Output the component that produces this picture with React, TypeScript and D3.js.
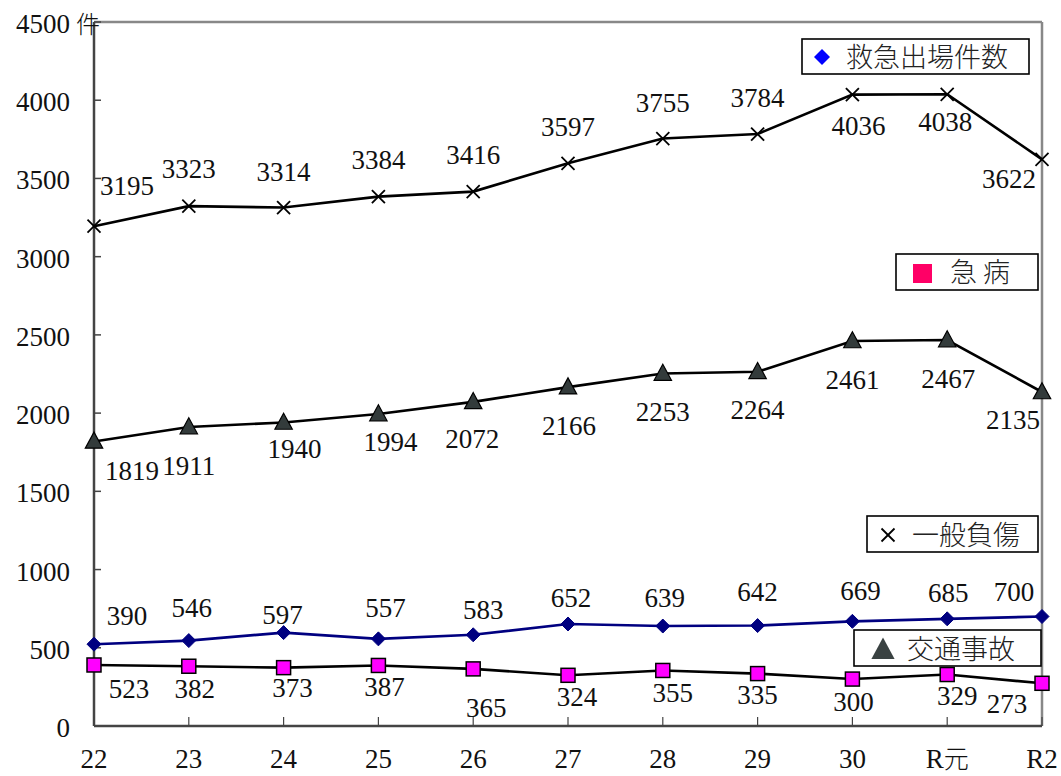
import * as d3 from "d3";

const categories = ["22", "23", "24", "25", "26", "27", "28", "29", "30", "R元", "R2"];

const crossValues = [3195, 3323, 3314, 3384, 3416, 3597, 3755, 3784, 4036, 4038, 3622];
const triangleValues = [1819, 1911, 1940, 1994, 2072, 2166, 2253, 2264, 2461, 2467, 2135];
const diamondValues = [523, 546, 597, 557, 583, 652, 639, 642, 669, 685, 700];
const squareValues = [390, 382, 373, 387, 365, 324, 355, 335, 300, 329, 273];

// label text shown at each point (the first two low labels are swapped in the source)
const diamondLabels = ["523", "546", "597", "557", "583", "652", "639", "642", "669", "685", "700"];
const squareLabels = ["390", "382", "373", "387", "365", "324", "355", "335", "300", "329", "273"];

const yTicks = [0, 500, 1000, 1500, 2000, 2500, 3000, 3500, 4000, 4500];

// label placement relative to each point: [dx, dy of baseline]
const crossLabelPos = [[33, -31], [0, -28], [0, -27], [0, -28], [0, -28], [0, -27], [0, -27], [0, -27], [6, 40], [-2, 37], [-33, 29]];
const triangleLabelPos = [[38, 39], [0, 48], [11, 36], [12, 37], [-1, 46], [1, 48], [0, 47], [0, 47], [0, 48], [1, 48], [-29, 37]];
const diamondLabelPos = [[35, 54], [3, -24], [-1, -9], [7, -22], [10, -16], [3, -17], [2, -19], [0, -25], [8, -21], [1, -17], [-28, -15]];
const squareLabelPos = [[33, -40], [6, 32], [9, 29], [6, 31], [13, 48], [9, 31], [10, 32], [0, 30], [1, 32], [10, 30], [-35, 30]];

const width = 1061;
const height = 776;
const plot = { left: 94, right: 1042, top: 22, bottom: 726 };

const numFont = "'Liberation Serif', 'Noto Sans CJK JP', serif";
const cjkFont = "'Noto Sans CJK JP', 'Liberation Serif', serif";

const x = d3.scalePoint<string>().domain(categories).range([plot.left, plot.right]);
const y = d3.scaleLinear().domain([0, 4500]).range([plot.bottom, plot.top]);

const line = d3
  .line<number>()
  .x((_, i) => x(categories[i]) ?? 0)
  .y((v) => y(v));

function Labels({ values, labels, pos }: { values: number[]; labels: string[]; pos: number[][] }) {
  return (
    <g fontFamily={numFont} fontSize={27} fill="#111" textAnchor="middle">
      {values.map((v, i) => (
        <text key={i} x={(x(categories[i]) ?? 0) + pos[i][0]} y={y(v) + pos[i][1]}>
          {labels[i]}
        </text>
      ))}
    </g>
  );
}

function Cross({ cx, cy, r = 6.5 }: { cx: number; cy: number; r?: number }) {
  return (
    <g stroke="#000" strokeWidth={1.8}>
      <line x1={cx - r} y1={cy - r} x2={cx + r} y2={cy + r} />
      <line x1={cx - r} y1={cy + r} x2={cx + r} y2={cy - r} />
    </g>
  );
}

function trianglePath(cx: number, cy: number, s: number) {
  return `M${cx},${cy - s * 0.62} L${cx + s * 0.58},${cy + s * 0.45} L${cx - s * 0.58},${cy + s * 0.45}Z`;
}

function diamondPath(cx: number, cy: number, s: number) {
  return `M${cx},${cy - s} L${cx + s},${cy} L${cx},${cy + s} L${cx - s},${cy}Z`;
}

function Legend({ x0, y0, w, h, children }: { x0: number; y0: number; w: number; h: number; children: React.ReactNode }) {
  return (
    <g>
      <rect x={x0} y={y0} width={w} height={h} fill="#fff" stroke="#000" strokeWidth={1.6} />
      {children}
    </g>
  );
}

export default function App() {
  return (
    <svg width={width} height={height} style={{ position: "absolute", left: 0, top: 0, background: "#fff" }}>
      <rect width={width} height={height} fill="#fff" />

      {/* frame */}
      <line x1={plot.left} x2={plot.right} y1={plot.top} y2={plot.top} stroke="#888" strokeWidth={2.5} />
      <line x1={plot.right} x2={plot.right} y1={plot.top} y2={plot.bottom} stroke="#888" strokeWidth={2.5} />
      <line x1={plot.left} x2={plot.left} y1={plot.top} y2={plot.bottom} stroke="#444" strokeWidth={2.5} />
      <line x1={plot.left} x2={plot.right} y1={plot.bottom} y2={plot.bottom} stroke="#444" strokeWidth={2.5} />

      {/* y axis */}
      {yTicks.map((t) => (
        <g key={t}>
          <line x1={plot.left} x2={plot.left + 7} y1={y(t)} y2={y(t)} stroke="#444" strokeWidth={1.5} />
          <text x={70} y={y(t) + 11} textAnchor="end" fontFamily={numFont} fontSize={27} fill="#111">
            {t}
          </text>
        </g>
      ))}
      <text x={76} y={y(4500) + 11} fontFamily={cjkFont} fontWeight={300} fontSize={24} fill="#111">
        件
      </text>

      {/* x axis */}
      {categories.map((c) => (
        <g key={c}>
          <line x1={x(c)} x2={x(c)} y1={plot.bottom} y2={plot.bottom - 9} stroke="#444" strokeWidth={1.2} />
          <text x={x(c)} y={768} textAnchor="middle" fontFamily={numFont} fontSize={27} fill="#111">
            {c === "R元" ? (
              <>
                R<tspan fontFamily={cjkFont} fontWeight={300} fontSize={25}>元</tspan>
              </>
            ) : (
              c
            )}
          </text>
        </g>
      ))}

      {/* lines */}
      <path d={line(crossValues) ?? ""} fill="none" stroke="#000" strokeWidth={2.6} />
      <path d={line(triangleValues) ?? ""} fill="none" stroke="#000" strokeWidth={2.6} />
      <path d={line(squareValues) ?? ""} fill="none" stroke="#000" strokeWidth={2.6} />
      <path d={line(diamondValues) ?? ""} fill="none" stroke="#000080" strokeWidth={2.6} />

      {/* markers */}
      {crossValues.map((v, i) => (
        <Cross key={`c${i}`} cx={x(categories[i]) ?? 0} cy={y(v)} />
      ))}
      {triangleValues.map((v, i) => (
        <path key={`t${i}`} d={trianglePath(x(categories[i]) ?? 0, y(v), 15)} fill="#333b3b" stroke="#000" strokeWidth={1.2} />
      ))}
      {diamondValues.map((v, i) => (
        <path key={`d${i}`} d={diamondPath(x(categories[i]) ?? 0, y(v), 7)} fill="#000080" stroke="#000080" strokeWidth={1} />
      ))}
      {squareValues.map((v, i) => (
        <rect
          key={`s${i}`}
          x={(x(categories[i]) ?? 0) - 7}
          y={y(v) - 7}
          width={14}
          height={14}
          fill="#ff00ff"
          stroke="#000"
          strokeWidth={1.5}
        />
      ))}

      {/* data labels */}
      <Labels values={crossValues} labels={crossValues.map(String)} pos={crossLabelPos} />
      <Labels values={triangleValues} labels={triangleValues.map(String)} pos={triangleLabelPos} />
      <Labels values={diamondValues} labels={diamondLabels} pos={diamondLabelPos} />
      <Labels values={squareValues} labels={squareLabels} pos={squareLabelPos} />

      {/* legends */}
      <Legend x0={802} y0={39} w={227} h={35}>
        <path d={diamondPath(822, 57, 8)} fill="#0000ff" />
        <text x={846} y={67} fontFamily={cjkFont} fontWeight={300} fontSize={27} fill="#222">
          救急出場件数
        </text>
      </Legend>
      <Legend x0={896} y0={254} w={142} h={36}>
        <rect x={913} y={264} width={19} height={19} fill="#ff0066" />
        <text x={950} y={282} fontFamily={cjkFont} fontWeight={300} fontSize={27} fill="#222">
          急 病
        </text>
      </Legend>
      <Legend x0={867} y0={516} w={171} h={36}>
        <Cross cx={888} cy={535} r={6.5} />
        <text x={912} y={545} fontFamily={cjkFont} fontWeight={300} fontSize={27} fill="#222">
          一般負傷
        </text>
      </Legend>
      <Legend x0={854} y0={630} w={187} h={36}>
        <path d={trianglePath(883, 650, 20)} fill="#3a4242" />
        <text x={907} y={659} fontFamily={cjkFont} fontWeight={300} fontSize={27} fill="#222">
          交通事故
        </text>
      </Legend>
    </svg>
  );
}
